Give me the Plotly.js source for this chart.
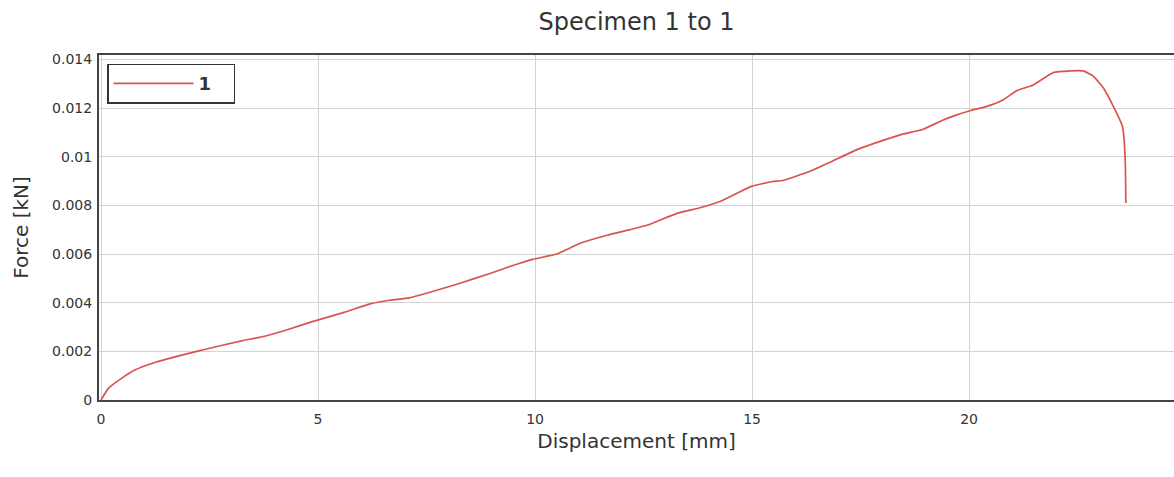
<!DOCTYPE html>
<html>
<head>
<meta charset="utf-8">
<script src="https://cdn.plot.ly/plotly-3.0.1.min.js"></script>
<style>html,body{margin:0;padding:0;background:#fff;}#chart{width:1174px;height:477px;}</style>
</head>
<body>
<div id="chart"></div>
<script>
const seriesName = "1";
const displacement = [0, 0.17, 0.48, 0.78, 1.17, 1.66, 2.16, 2.7, 3.24, 3.77, 4.31, 4.85, 5.6, 6.2, 6.66, 7.1, 7.58, 8.27, 8.96, 9.49, 9.95, 10.5, 11.04, 11.66, 12.19, 12.58, 13.27, 13.8, 14.26, 14.71, 14.98, 15.47, 15.71, 16.32, 16.78, 17.39, 17.93, 18.47, 18.93, 19.39, 19.7, 20.02, 20.41, 20.79, 21.1, 21.48, 21.94, 22.33, 22.63, 22.86, 23.09, 23.32, 23.53, 23.57, 23.6, 23.61];
const force = [0, 0.00048, 0.0009, 0.00123, 0.0015, 0.00175, 0.00198, 0.00221, 0.00243, 0.00262, 0.0029, 0.00321, 0.0036, 0.00395, 0.0041, 0.0042, 0.00443, 0.0048, 0.0052, 0.00553, 0.00578, 0.006, 0.00644, 0.00677, 0.0070, 0.00718, 0.00767, 0.0079, 0.00816, 0.00855, 0.00878, 0.00898, 0.00902, 0.00939, 0.00976, 0.01027, 0.01062, 0.01093, 0.01112, 0.0115, 0.01171, 0.01189, 0.01207, 0.01234, 0.01272, 0.01295, 0.01346, 0.01353, 0.01353, 0.01331, 0.01283, 0.01208, 0.01126, 0.01072, 0.00963, 0.0081];

const fam = "DejaVu Sans, Liberation Sans, Arial, sans-serif";
const tickFont = {family: fam, size: 14, color: "#333"};
const axisTitleFont = {family: fam, size: 20, color: "#333"};
const trace = {
  x: displacement, y: force, type: "scatter", mode: "lines",
  name: "<b>" + seriesName + "</b>\u00A0\u00A0\u00A0",
  line: {color: "#d9534f", width: 1.7, shape: "spline", smoothing: 0.4}
};
const layout = {
  width: 1174, height: 477,
  margin: {l: 99, r: 0, t: 55, b: 77},
  paper_bgcolor: "#fff", plot_bgcolor: "#fff",
  font: tickFont,
  title: {text: "Specimen 1 to 1", font: {family: fam, size: 24, color: "#333"}, xref: "paper", x: 0.5, y: 0.954, yanchor: "middle"},
  showlegend: true,
  legend: {x: 0.0075, y: 0.975, xanchor: "left", yanchor: "top", bgcolor: "#fff", bordercolor: "#333", borderwidth: 1.5, font: {family: fam, size: 18, color: "#333"}, itemwidth: 80},
  xaxis: {
    range: [-0.046, 24.72], dtick: 5, tick0: 0,
    showgrid: true, gridcolor: "#d3d3d3", gridwidth: 1,
    zeroline: false, showline: true, linecolor: "#444", linewidth: 2, mirror: true,
    ticks: "", tickfont: tickFont, ticklabelstandoff: 5,
    title: {text: "Displacement [mm]", font: axisTitleFont, standoff: 8}
  },
  yaxis: {
    range: [0, 0.01418], dtick: 0.002, tick0: 0,
    showgrid: true, gridcolor: "#d3d3d3", gridwidth: 1,
    zeroline: false, showline: true, linecolor: "#444", linewidth: 2,
    ticks: "", tickfont: tickFont, ticklabelstandoff: 2,
    title: {text: "Force [kN]", font: axisTitleFont, standoff: 18}
  }
};
Plotly.newPlot("chart", [trace], layout, {displayModeBar: false, staticPlot: true});
</script>
</body>
</html>
